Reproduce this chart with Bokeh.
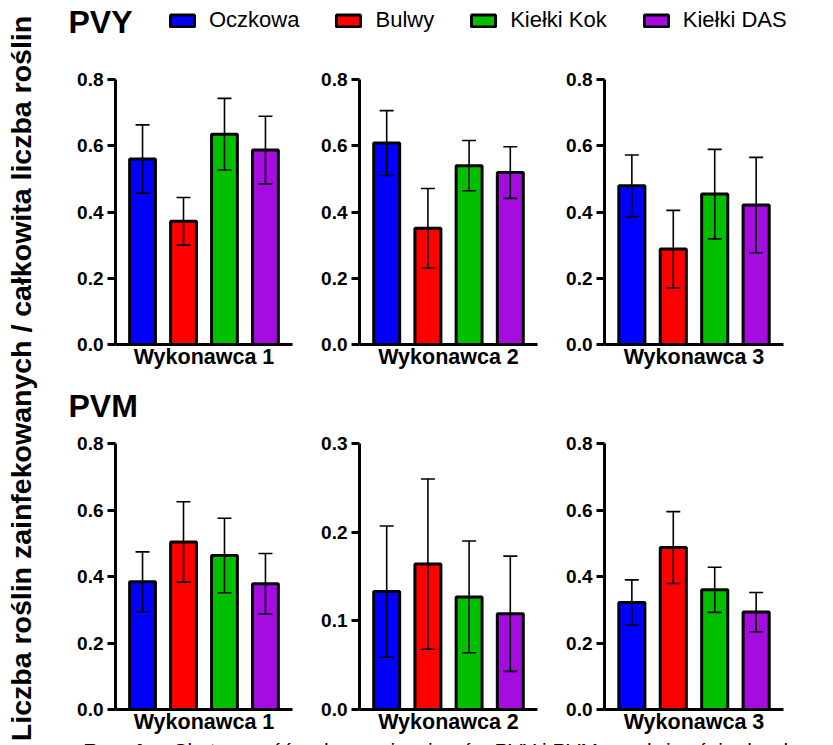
from math import pi
from bokeh.plotting import figure
from bokeh.models import (Range1d, FixedTicker, Whisker, TeeHead, ColumnDataSource,
                          Label, Legend, LegendItem, NumeralTickFormatter)
from bokeh.layouts import row, column
from bokeh.embed import file_html
from bokeh.resources import INLINE

# ---------------- data ----------------
series = ["Oczkowa", "Bulwy", "Kiełki Kok", "Kiełki DAS"]
colors = ["#0000FF", "#FF0000", "#00C000", "#A50CE0"]
contractors = ["Wykonawca 1", "Wykonawca 2", "Wykonawca 3"]

pvy_means = [[0.560, 0.372, 0.635, 0.587],
             [0.608, 0.351, 0.540, 0.519],
             [0.479, 0.288, 0.454, 0.421]]
pvy_err = [[0.103, 0.072, 0.108, 0.102],
           [0.098, 0.120, 0.076, 0.078],
           [0.093, 0.117, 0.135, 0.144]]

pvm_means = [[0.384, 0.504, 0.463, 0.378],
             [0.133, 0.164, 0.127, 0.108],
             [0.322, 0.487, 0.360, 0.293]]
pvm_err = [[0.090, 0.121, 0.112, 0.091],
           [0.074, 0.096, 0.063, 0.065],
           [0.068, 0.108, 0.068, 0.059]]

pvy_ymax = [0.8, 0.8, 0.8]
pvm_ymax = [0.8, 0.3, 0.8]
ticks_08 = [0.0, 0.2, 0.4, 0.6, 0.8]
ticks_03 = [0.0, 0.1, 0.2, 0.3]
pvy_ticks = [ticks_08, ticks_08, ticks_08]
pvm_ticks = [ticks_08, ticks_03, ticks_08]

y_title = "Liczba roślin zainfekowanych / całkowita liczba roślin"
caption_bold = "Rys. 1."
caption_text = "Skuteczność wykrywania wirusów PVY i PVM w zależności od wykonawcy i rodzaju próby"

FONT = "Liberation Sans"

# ---------------- helpers ----------------
widths = [252, 245, 288]
lefts = [67, 59, 59]
rights = [8, 8, 50]


def panel(means, errs, ymax, ticks, label, i, height, top, bottom):
    p = figure(width=widths[i], height=height,
               x_range=Range1d(-0.66, 3.66), y_range=Range1d(0, ymax),
               output_backend="svg", toolbar_location=None,
               min_border_left=lefts[i], min_border_right=rights[i],
               min_border_top=top, min_border_bottom=bottom)
    src = ColumnDataSource(dict(
        x=list(range(len(series))), top=means, color=colors,
        upper=[m + e for m, e in zip(means, errs)],
        lower=[m - e for m, e in zip(means, errs)]))
    p.vbar(x="x", top="top", width=0.63, fill_color="color",
           line_color="black", line_width=3, source=src)
    w = Whisker(base="x", upper="upper", lower="lower", source=src,
                level="overlay", line_color="black", line_width=1.6)
    w.upper_head = TeeHead(size=14, line_width=1.6, line_color="black")
    w.lower_head = TeeHead(size=14, line_width=1.6, line_color="black")
    p.add_layout(w)

    p.xgrid.visible = False
    p.ygrid.visible = False
    p.outline_line_color = None
    p.background_fill_color = "white"

    ya = p.yaxis[0]
    ya.ticker = FixedTicker(ticks=ticks)
    ya.formatter = NumeralTickFormatter(format="0.0")
    ya.axis_line_width = 3
    ya.major_tick_line_width = 3
    ya.major_tick_out = 8
    ya.major_tick_in = 0
    ya.minor_tick_out = 0
    ya.minor_tick_in = 0
    ya.major_label_text_font = FONT
    ya.major_label_text_font_style = "bold"
    ya.major_label_text_font_size = "19px"
    ya.major_label_text_color = "black"
    ya.major_label_standoff = 4

    xa = p.xaxis[0]
    xa.ticker = FixedTicker(ticks=[])
    xa.axis_line_width = 3
    xa.major_tick_out = 0
    xa.major_tick_in = 0
    xa.minor_tick_out = 0
    xa.minor_tick_in = 0
    xa.major_label_standoff = 0
    xa.axis_label = label
    xa.axis_label_standoff = 0
    xa.axis_label_text_font = FONT
    xa.axis_label_text_font_style = "bold"
    xa.axis_label_text_font_size = "21.5px"
    xa.axis_label_text_color = "black"
    return p


def blank(width, height):
    p = figure(width=width, height=height, x_range=Range1d(0, width),
               y_range=Range1d(0, height), output_backend="svg",
               toolbar_location=None, x_axis_type=None, y_axis_type=None,
               min_border=0)
    p.xgrid.visible = False
    p.ygrid.visible = False
    p.outline_line_color = None
    return p


TOTAL_H = 745

# ---------------- y-title column ----------------
ylab = blank(48, TOTAL_H)
ylab.add_layout(Label(x=20, y=TOTAL_H - 378, text=y_title, angle=pi / 2,
                      text_align="center", text_baseline="middle",
                      text_font=FONT, text_font_style="bold",
                      text_font_size="28.5px", text_color="black"))

# ---------------- PVY header with legend ----------------
hdr = blank(785, 48)
hdr.add_layout(Label(x=20, y=27, text="PVY", text_align="left",
                     text_baseline="middle", text_font=FONT,
                     text_font_style="bold", text_font_size="32px",
                     text_color="black"))
items = []
for s, c in zip(series, colors):
    r = hdr.rect(x=[-1000], y=[-1000], width=1, height=1, fill_color=c,
                 line_color="black", line_width=3)
    items.append(LegendItem(label=s, renderers=[r]))
leg = Legend(items=items, orientation="horizontal", location=(119, 15),
             glyph_width=30, glyph_height=15, label_standoff=12, spacing=34,
             padding=0, margin=0, border_line_color=None,
             background_fill_alpha=0, label_text_font=FONT,
             label_text_font_size="22px", label_text_color="black",
             label_height=15)
hdr.add_layout(leg)

# ---------------- PVM header ----------------
hdr2 = blank(785, 52)
hdr2.add_layout(Label(x=20, y=19, text="PVM", text_align="left",
                      text_baseline="middle", text_font=FONT,
                      text_font_style="bold", text_font_size="32px",
                      text_color="black"))

# ---------------- caption (cut by the window edge, as in the reference) ----
cap = blank(785, 8)
cap.add_layout(Label(x=35, y=11, text=caption_bold, text_align="left",
                     text_baseline="top", text_font=FONT,
                     text_font_style="bold", text_font_size="21px",
                     text_color="black"))
cap.add_layout(Label(x=125, y=11, text=caption_text, text_align="left",
                     text_baseline="top", text_font=FONT,
                     text_font_size="21px", text_color="black"))

top_row = row(*[panel(pvy_means[i], pvy_err[i], pvy_ymax[i], pvy_ticks[i],
                      contractors[i], i, 324, 31, 28) for i in range(3)])
bot_row = row(*[panel(pvm_means[i], pvm_err[i], pvm_ymax[i], pvm_ticks[i],
                      contractors[i], i, 313, 19, 28) for i in range(3)])

layout = row(ylab, column(hdr, top_row, hdr2, bot_row, cap))

open("out.html", "w").write(file_html(layout, INLINE))
